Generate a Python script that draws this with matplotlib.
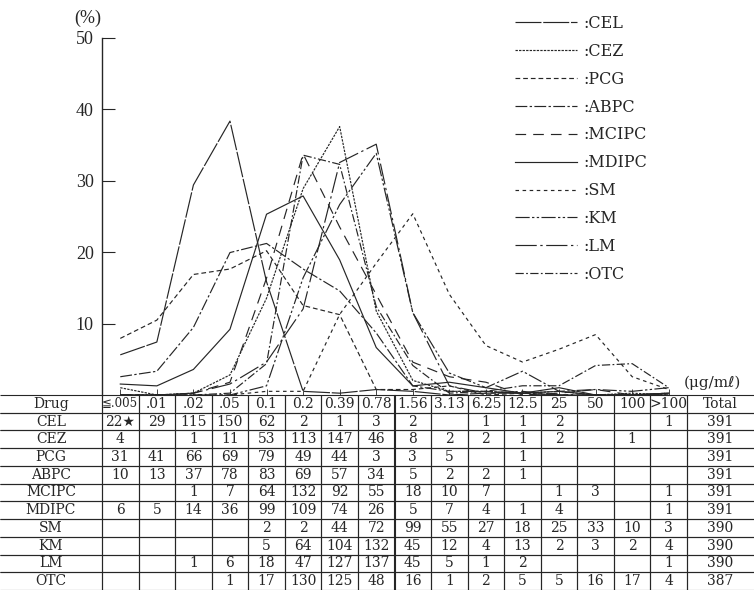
import matplotlib.pyplot as plt
from matplotlib.lines import Line2D
import numpy as np

# MIC classes (ug/ml) and drugs
conc = ['≦.005', '.01', '.02', '.05', '0.1', '0.2', '0.39', '0.78',
        '1.56', '3.13', '6.25', '12.5', '25', '50', '100', '>100']
drugs = ['CEL', 'CEZ', 'PCG', 'ABPC', 'MCIPC', 'MDIPC', 'SM', 'KM', 'LM', 'OTC']

# number of strains per MIC class (0 = blank cell)
cel = [22, 29, 115, 150, 62, 2, 1, 3, 2, 0, 1, 1, 2, 0, 0, 1]
cez = [4, 0, 1, 11, 53, 113, 147, 46, 8, 2, 2, 1, 2, 0, 1, 0]
pcg = [31, 41, 66, 69, 79, 49, 44, 3, 3, 5, 0, 1, 0, 0, 0, 0]
abpc = [10, 13, 37, 78, 83, 69, 57, 34, 5, 2, 2, 1, 0, 0, 0, 0]
mcipc = [0, 0, 1, 7, 64, 132, 92, 55, 18, 10, 7, 0, 1, 3, 0, 1]
mdipc = [6, 5, 14, 36, 99, 109, 74, 26, 5, 7, 4, 1, 4, 0, 0, 1]
sm = [0, 0, 0, 0, 2, 2, 44, 72, 99, 55, 27, 18, 25, 33, 10, 3]
km = [0, 0, 0, 0, 5, 64, 104, 132, 45, 12, 4, 13, 2, 3, 2, 4]
lm = [0, 0, 1, 6, 18, 47, 127, 137, 45, 5, 1, 2, 0, 0, 0, 1]
otc = [0, 0, 0, 1, 17, 130, 125, 48, 16, 1, 2, 5, 5, 16, 17, 4]
totals = [391, 391, 391, 391, 391, 391, 390, 390, 390, 387]

counts = [cel, cez, pcg, abpc, mcipc, mdipc, sm, km, lm, otc]

styles = {
    'CEL': (0, (22, 1.5)),
    'CEZ': (0, (2, 1)),
    'PCG': (0, (4, 2.5)),
    'ABPC': (0, (10, 2, 2, 2)),
    'MCIPC': (0, (9, 6)),
    'MDIPC': '-',
    'SM': (0, (3, 3)),
    'KM': (0, (12, 2, 2, 2, 2, 2)),
    'LM': (0, (18, 3, 2, 3)),
    'OTC': (0, (7, 2, 1.5, 2)),
}

serif = ['DejaVu Serif', 'DejaVu Sans']
plt.rcParams['font.family'] = ['Liberation Serif', 'DejaVu Sans']
ink = '#262626'

W, H = 754, 590
fig = plt.figure(figsize=(W / 100, H / 100), dpi=100)

x0, x1 = 102, 687      # left/right of the MIC columns
ybase, ytop = 395, 38  # pixel rows of 0 % and 50 %
ax = fig.add_axes([x0 / W, 1 - ybase / H, (x1 - x0) / W, (ybase - ytop) / H])

x = np.arange(len(conc))
for name, c, tot in zip(drugs, counts, totals):
    pct = np.array(c) / tot * 100
    ax.plot(x, pct, color=ink, lw=0.85, linestyle=styles[name], clip_on=False)

ax.set_xlim(-0.5, len(conc) - 0.5)
ax.set_ylim(0, 50)
ax.set_yticks([10, 20, 30, 40, 50])
ax.set_xticks(x)
ax.set_xticklabels([])
ax.tick_params(axis='x', direction='in', length=4, width=0.6, color=ink)
ax.tick_params(axis='y', direction='in', length=9, width=0.8, labelsize=13,
               pad=6, color=ink, labelcolor=ink)
for s in ['top', 'right', 'bottom']:
    ax.spines[s].set_visible(False)
ax.spines['left'].set_linewidth(1.0)
ax.spines['left'].set_color(ink)
ax.patch.set_alpha(0)

fig.text(88 / W, 1 - 18 / H, '(%)', fontsize=13, ha='center', va='center', color=ink)
fig.text(684 / W, 1 - 383 / H, '(μg/mℓ)', fontsize=11, ha='left', va='center',
         family=serif, color=ink)

handles = [Line2D([], [], color=ink, lw=0.85, linestyle=styles[d]) for d in drugs]
leg = fig.legend(handles, [':' + d for d in drugs], loc='upper left',
                 bbox_to_anchor=(507 / W, 1 - 7 / H), frameon=False,
                 prop={'family': serif, 'size': 11.5},
                 handlelength=3.9, handletextpad=0.4, labelspacing=0.68, borderpad=0)
for t in leg.get_texts():
    t.set_color(ink)

# table below the chart
tab_ax = fig.add_axes([0, 0, 1, (H - ybase) / H])
tab_ax.axis('off')

notes = {(0, 0): '★'}
rows = [['Drug'] + conc + ['Total']]
for i, (name, c, tot) in enumerate(zip(drugs, counts, totals)):
    cells = [str(v) if v else '' for v in c]
    for (r, k), mark in notes.items():
        if r == i:
            cells[k] += mark
    rows.append([name] + cells + [str(tot)])

col_w = [x0] + [(x1 - x0) / len(conc)] * len(conc) + [W - x1]
col_w = [w / W for w in col_w]
table = tab_ax.table(cellText=rows, colWidths=col_w, cellLoc='center',
                     bbox=[0, 0, 1, 1])
table.auto_set_font_size(False)
ncol = len(rows[0])
for (r, k), cell in table.get_celld().items():
    cell.set_linewidth(0.8)
    cell.set_edgecolor(ink)
    cell.set_facecolor('none')
    txt = cell.get_text()
    txt.set_fontsize(10)
    txt.set_family(serif)
    txt.set_color(ink)
    if r == 0 and k == 1:
        txt.set_fontsize(8.5)
    if k == 0:
        cell.visible_edges = 'TBR'
    elif k == ncol - 1:
        cell.visible_edges = 'TBL'

fig.savefig('out.png', dpi=100)
